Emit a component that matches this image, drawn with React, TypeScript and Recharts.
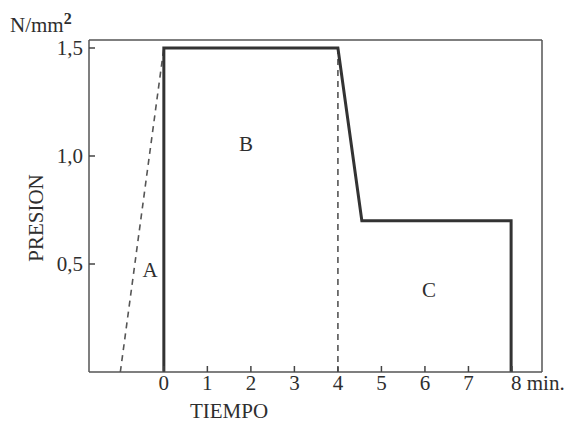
import React from "react";
import { ComposedChart, Line, XAxis, YAxis } from "recharts";

// Pressure cycle (solid) in N/mm² vs time in minutes
const cycleTime = [0, 0, 4, 4.55, 7.98, 7.98];
const cyclePressure = [0, 1.5, 1.5, 0.7, 0.7, 0];
// Dashed ramp A
const rampTime = [-1, 0];
const rampPressure = [0, 1.5];
// Dashed drop at 4 min
const dropTime = [4, 4];
const dropPressure = [1.5, 0];

const xTicks = [0, 1, 2, 3, 4, 5, 6, 7, 8];
const yTicks = [0.5, 1.0, 1.5];
const yTickLabels = ["0,5", "1,0", "1,5"];

const xDomain: [number, number] = [-1.72, 8.69];
const yDomain: [number, number] = [0, 1.537];

const toRows = (xs: number[], ys: number[]) => xs.map((x, i) => ({ x, y: ys[i] }));
const cycleData = toRows(cycleTime, cyclePressure);
const rampData = toRows(rampTime, rampPressure);
const dropData = toRows(dropTime, dropPressure);

const FONT = "'Liberation Serif', 'Times New Roman', serif";
const TEXT = "#2e2e2e";
const FS = 21;
const FRAME = { stroke: "#555", strokeWidth: 1.5 };

const XTick = (props: any) => {
  const { x, y, payload } = props;
  const v = payload.value;
  return (
    <g>
      <line x1={x} y1={y} x2={x} y2={y - 6} stroke="#444" strokeWidth={1.5} />
      {v === 8 ? (
        <text x={x - 1} y={y + 18} fontFamily={FONT} fontSize={FS} fill={TEXT} textAnchor="start">
          8 min.
        </text>
      ) : (
        <text x={x} y={y + 18} fontFamily={FONT} fontSize={FS} fill={TEXT} textAnchor="middle">
          {v}
        </text>
      )}
    </g>
  );
};

const YTick = (props: any) => {
  const { x, y, payload } = props;
  const idx = yTicks.indexOf(payload.value);
  return (
    <g>
      <line x1={x} y1={y} x2={x + 6} y2={y} stroke="#444" strokeWidth={1.5} />
      <text x={x - 6} y={y + 7} fontFamily={FONT} fontSize={FS} fill={TEXT} textAnchor="end">
        {idx >= 0 ? yTickLabels[idx] : ""}
      </text>
    </g>
  );
};

export default function App() {
  return (
    <div style={{ position: "absolute", left: 0, top: 0, width: 568, height: 422, background: "#fff" }}>
      <ComposedChart
        width={568}
        height={422}
        margin={{ top: 0, right: 0, bottom: 0, left: 0 }}
      >
        <XAxis
          dataKey="x"
          type="number"
          domain={xDomain}
          ticks={xTicks}
          allowDataOverflow
          height={50}
          tickSize={0}
          tickMargin={0}
          tickLine={false}
          tick={<XTick />}
          axisLine={FRAME}
        />
        <XAxis
          xAxisId="top"
          orientation="top"
          type="number"
          domain={xDomain}
          allowDataOverflow
          height={40}
          tick={false}
          tickLine={false}
          axisLine={FRAME}
        />
        <YAxis
          type="number"
          domain={yDomain}
          ticks={yTicks}
          allowDataOverflow
          width={89}
          tickSize={0}
          tickMargin={0}
          tickLine={false}
          tick={<YTick />}
          axisLine={FRAME}
        />
        <YAxis
          yAxisId="right"
          orientation="right"
          type="number"
          domain={yDomain}
          allowDataOverflow
          width={26}
          tick={false}
          tickLine={false}
          axisLine={FRAME}
        />
        <Line
          data={rampData}
          dataKey="y"
          type="linear"
          stroke="#555"
          strokeWidth={1.6}
          strokeDasharray="6 5"
          dot={false}
          isAnimationActive={false}
        />
        <Line
          data={dropData}
          dataKey="y"
          type="linear"
          stroke="#555"
          strokeWidth={1.6}
          strokeDasharray="6 5"
          dot={false}
          isAnimationActive={false}
        />
        <Line
          data={cycleData}
          dataKey="y"
          type="linear"
          stroke="#333"
          strokeWidth={3}
          dot={false}
          isAnimationActive={false}
        />
      </ComposedChart>
      <svg
        width={568}
        height={422}
        style={{ position: "absolute", left: 0, top: 0, pointerEvents: "none" }}
      >
        <text x={10} y={32} fontFamily={FONT} fontSize={FS} fill={TEXT}>
          N/mm
          <tspan dy={-8} fontSize={16} fontWeight="bold">2</tspan>
        </text>
        <text
          x={0}
          y={0}
          transform="translate(43,218) rotate(-90)"
          fontFamily={FONT}
          fontSize={FS}
          fill={TEXT}
          textAnchor="middle"
        >
          PRESION
        </text>
        <text x={229} y={418} fontFamily={FONT} fontSize={FS} fill={TEXT} textAnchor="middle">
          TIEMPO
        </text>
        <text x={150} y={277} fontFamily={FONT} fontSize={FS} fill={TEXT} textAnchor="middle">
          A
        </text>
        <text x={246} y={151} fontFamily={FONT} fontSize={FS} fill={TEXT} textAnchor="middle">
          B
        </text>
        <text x={429} y={297} fontFamily={FONT} fontSize={FS} fill={TEXT} textAnchor="middle">
          C
        </text>
      </svg>
    </div>
  );
}
